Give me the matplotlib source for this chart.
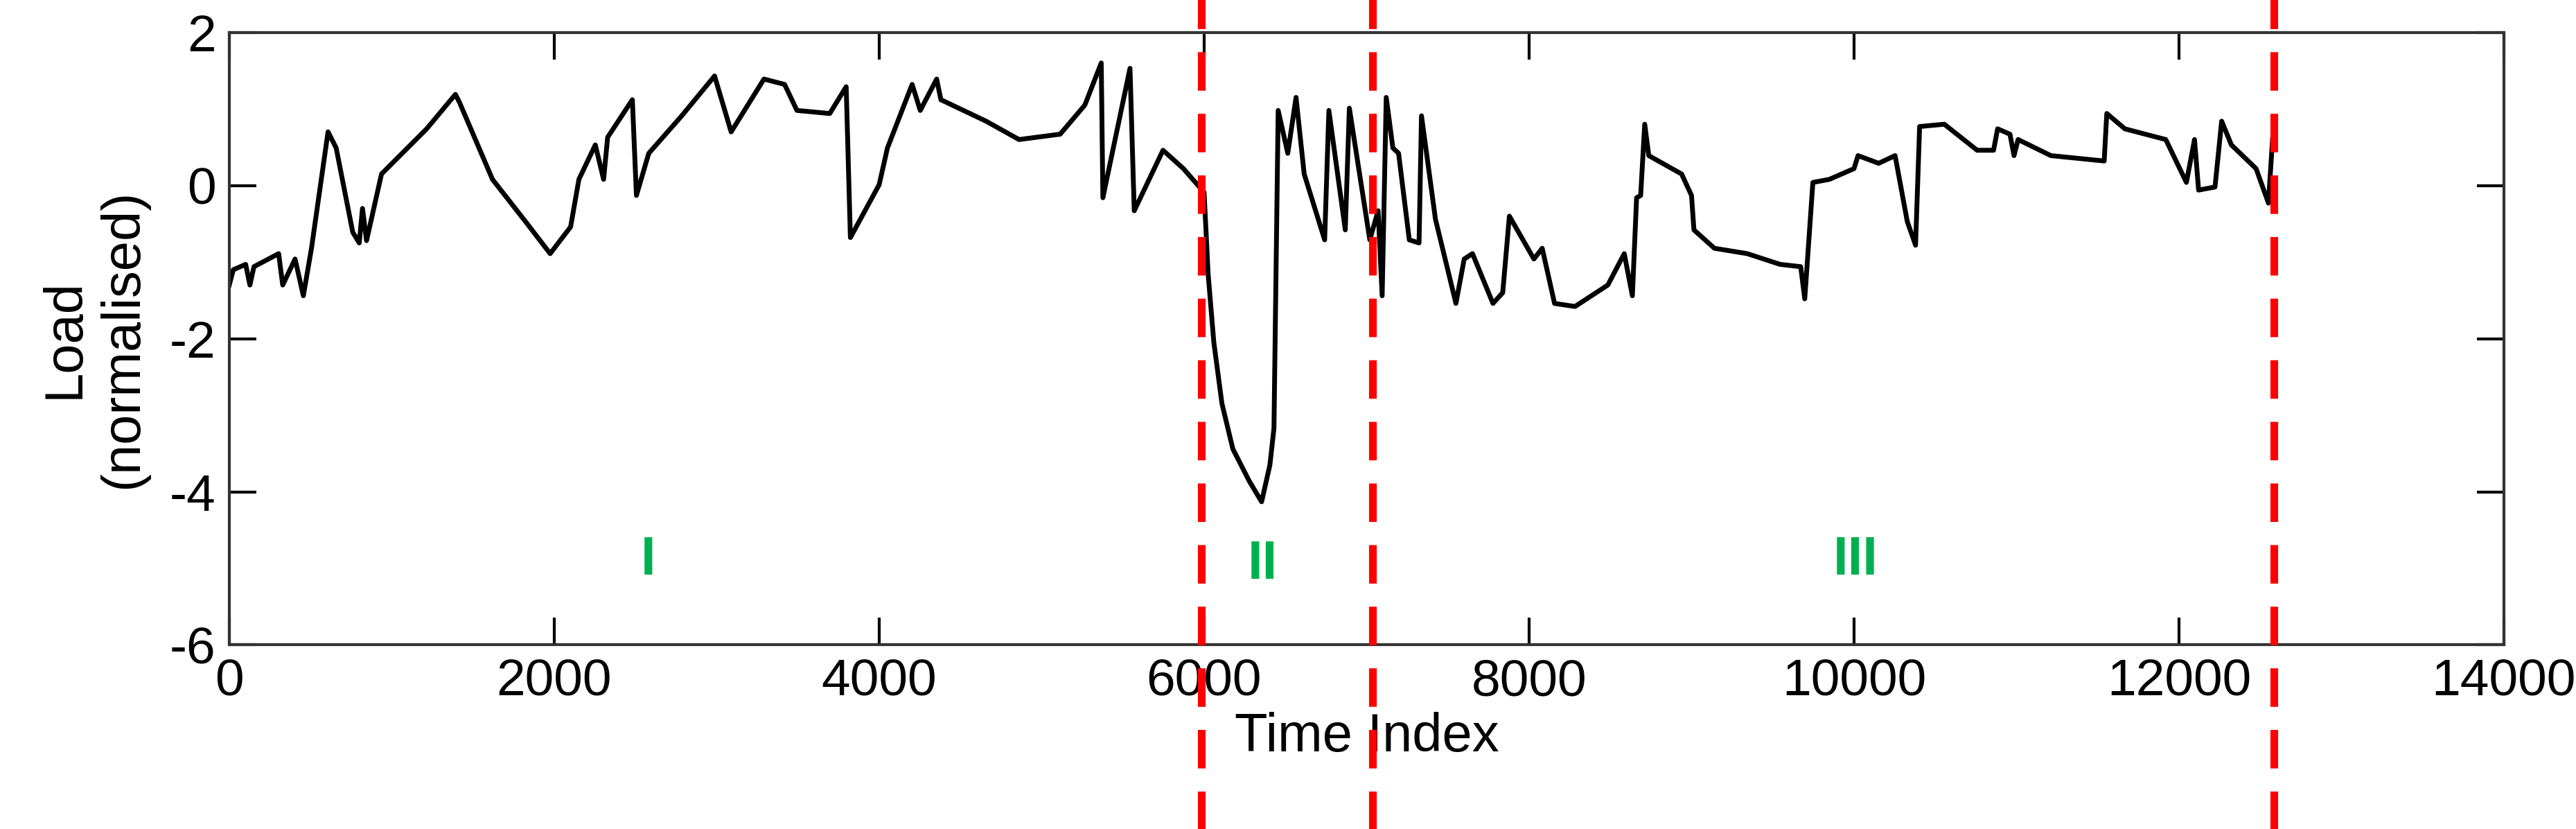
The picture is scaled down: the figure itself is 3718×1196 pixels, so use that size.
import matplotlib
matplotlib.use("Agg")
import matplotlib.pyplot as plt
from matplotlib import font_manager

names = {f.name for f in font_manager.fontManager.ttflist}
fam = 'Liberation Sans Narrow' if 'Liberation Sans Narrow' in names else 'Liberation Sans'
plt.rcParams['font.family'] = [fam, 'DejaVu Sans']
plt.rcParams['axes.unicode_minus'] = False

time_index = [0, 25, 101, 127, 152, 304, 329, 405, 456, 506, 608, 658, 760, 800, 820, 845, 937, 1215, 1392, 1418,
              1620, 1823, 1975, 2101, 2152, 2253, 2304, 2329, 2481, 2506, 2582, 2785, 2987, 3089, 3291, 3418, 3494,
              3696, 3797, 3823, 4000, 4051, 4203, 4253, 4354, 4380, 4658, 4861, 5114, 5266, 5367, 5377, 5544, 5570,
              5747, 5873, 6000, 6025, 6060, 6110, 6177, 6278, 6354, 6405, 6430, 6456, 6515, 6566, 6616, 6742, 6768, 6869, 6894,
              7020, 7071, 7096, 7121, 7162, 7197, 7263, 7323, 7338, 7424, 7550, 7601, 7652, 7778, 7838, 7879, 8030,
              8081, 8157, 8283, 8485, 8586, 8636, 8662, 8687, 8712, 8737, 8939, 9000, 9015, 9141, 9343, 9545, 9672,
              9697, 9747, 9848, 10000, 10025, 10152, 10253, 10328, 10379, 10404, 10556, 10758, 10859, 10884, 10960,
              10985, 11010, 11212, 11540, 11556, 11667, 11919, 12046, 12096, 12121, 12222, 12263, 12323, 12475,
              12551, 12576]
load = [-1.30, -1.10, -1.03, -1.30, -1.06, -0.89, -1.30, -0.96, -1.44, -0.82, 0.70, 0.49, -0.61, -0.75, -0.30, -0.72,
        0.15, 0.74, 1.19, 1.08, 0.08, -0.47, -0.89, -0.54, 0.08, 0.53, 0.08, 0.63, 1.12, -0.13, 0.42, 0.91, 1.43,
        0.70, 1.39, 1.32, 0.98, 0.94, 1.29, -0.68, 0.01, 0.49, 1.32, 0.98, 1.39, 1.12, 0.84, 0.60, 0.67, 1.05,
        1.60, -0.16, 1.53, -0.33, 0.46, 0.22, -0.09, -1.16, -2.05, -2.85, -3.44, -3.86, -4.13, -3.65, -3.17, 0.98, 0.42, 1.15,
        0.15, -0.71, 0.98, -0.58, 1.01, -0.71, -0.33, -1.44, 1.15, 0.49, 0.42, -0.71, -0.75, 0.91, -0.44, -1.54,
        -0.96, -0.89, -1.54, -1.40, -0.40, -0.96, -0.82, -1.54, -1.58, -1.30, -0.89, -1.44, -0.16, -0.13, 0.80,
        0.39, 0.15, -0.13, -0.58, -0.82, -0.89, -1.03, -1.06, -1.48, 0.04, 0.08, 0.22, 0.39, 0.29, 0.39, -0.47,
        -0.78, 0.77, 0.80, 0.46, 0.46, 0.74, 0.67, 0.39, 0.60, 0.39, 0.32, 0.94, 0.74, 0.60, 0.04, 0.60, -0.06,
        -0.02, 0.84, 0.53, 0.22, -0.23, 0.60]

boundaries = [5985, 7035, 12586]
region_labels = ['I', 'II', 'III']
region_label_x = [2580, 6360, 10010]
region_label_y = [-4.9, -4.95, -4.9]

fig = plt.figure(figsize=(37.18, 11.96), dpi=100)
ax = fig.add_axes([0.089, 0.222, 0.883, 0.739])
ax.plot(time_index, load, color='black', lw=5)
for b in boundaries:
    ax.plot([b, b], [-9.5, 2.5], color='red', lw=8, ls=(0, (5, 3)), clip_on=False, zorder=5)
for t, x, y in zip(region_labels, region_label_x, region_label_y):
    ax.text(x, y, t, color='#00b050', fontsize=56, fontweight='bold', ha='center', va='center')
ax.set_xlim(0, 14000)
ax.set_ylim(-6, 2)
ax.set_xticks(range(0, 14001, 2000))
ax.set_yticks([-6, -4, -2, 0, 2])
ax.tick_params(direction='in', length=28, width=3, labelsize=54, top=True, right=True, pad=14)
for s in ax.spines.values():
    s.set_linewidth(3)
    s.set_color('#333333')
ax.set_xlabel('Time Index', fontsize=56, labelpad=6)
ax.set_ylabel('Load\n(normalised)', fontsize=56, labelpad=22)
fig.savefig('out.png', dpi=100)
